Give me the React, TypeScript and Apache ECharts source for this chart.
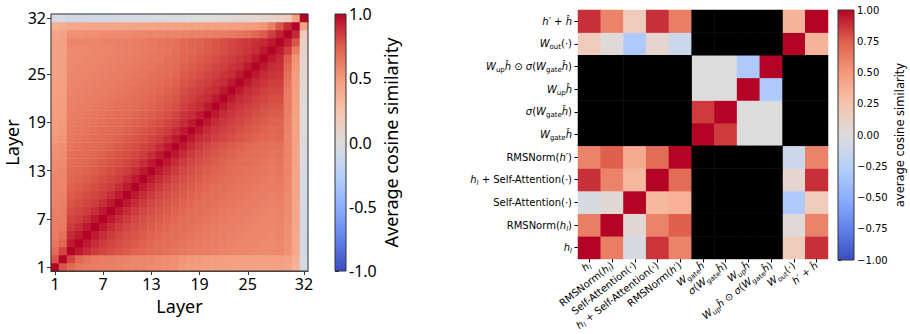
import React, { useEffect, useRef } from 'react';
import * as echarts from 'echarts';

// ---------- Left panel: layer-by-layer cosine similarity ----------
const layerLabels = ['1','2','3','4','5','6','7','8','9','10','11','12','13','14','15','16','17','18','19','20','21','22','23','24','25','26','27','28','29','30','31','32'];
const layerTickLabels = ['1','7','13','19','25','32'];

// lower triangle, row i (layer i) holds similarity with layers 1..i
const layerSimLower: number[][] = [
  [1],
  [.78,1],
  [.70,.82,1],
  [.65,.72,.94,1],
  [.63,.67,.89,.94,1],
  [.62,.64,.85,.89,.94,1],
  [.62,.63,.82,.85,.89,.94,1],
  [.61,.62,.80,.82,.85,.89,.94,1],
  [.60,.61,.78,.80,.82,.85,.89,.94,1],
  [.59,.60,.76,.78,.80,.82,.85,.89,.94,1],
  [.58,.59,.74,.76,.78,.80,.82,.85,.89,.94,1],
  [.58,.59,.72,.74,.76,.78,.80,.82,.85,.89,.94,1],
  [.57,.58,.70,.72,.74,.76,.78,.80,.82,.85,.89,.94,1],
  [.56,.57,.69,.70,.72,.74,.76,.78,.80,.82,.85,.89,.94,1],
  [.55,.56,.68,.69,.70,.72,.74,.76,.78,.80,.82,.85,.89,.94,1],
  [.54,.55,.66,.68,.69,.70,.72,.74,.76,.78,.80,.82,.85,.89,.94,1],
  [.50,.52,.65,.66,.68,.69,.70,.72,.74,.76,.78,.80,.82,.85,.89,.94,1],
  [.49,.51,.64,.65,.66,.68,.69,.70,.72,.74,.76,.78,.80,.82,.85,.89,.94,1],
  [.48,.50,.63,.64,.65,.66,.68,.69,.70,.72,.74,.76,.78,.80,.82,.85,.89,.94,1],
  [.48,.49,.62,.63,.64,.65,.66,.68,.69,.70,.72,.74,.76,.78,.80,.82,.87,.89,.94,1],
  [.47,.48,.61,.62,.63,.64,.65,.66,.68,.69,.70,.72,.74,.76,.78,.80,.84,.87,.89,.94,1],
  [.47,.48,.60,.61,.62,.63,.64,.65,.66,.68,.69,.70,.72,.74,.76,.78,.82,.84,.87,.89,.94,1],
  [.46,.47,.59,.60,.61,.62,.63,.64,.65,.66,.68,.69,.70,.72,.74,.76,.80,.82,.84,.87,.89,.94,1],
  [.46,.47,.58,.59,.60,.61,.62,.63,.64,.65,.66,.68,.69,.70,.72,.74,.78,.80,.82,.84,.87,.89,.94,1],
  [.45,.46,.58,.58,.59,.60,.61,.62,.63,.64,.65,.66,.68,.69,.70,.72,.76,.78,.80,.82,.84,.87,.89,.94,1],
  [.45,.46,.57,.58,.58,.59,.60,.61,.62,.63,.64,.65,.66,.68,.69,.70,.74,.76,.78,.80,.82,.84,.87,.89,.94,1],
  [.45,.46,.57,.57,.58,.58,.59,.60,.61,.62,.63,.64,.65,.66,.68,.69,.72,.74,.76,.78,.80,.82,.84,.87,.89,.94,1],
  [.45,.46,.56,.57,.57,.58,.58,.59,.60,.61,.62,.63,.64,.65,.66,.68,.71,.72,.74,.76,.78,.80,.82,.84,.87,.89,.94,1],
  [.46,.47,.58,.58,.59,.59,.60,.60,.61,.62,.63,.64,.65,.66,.67,.68,.72,.73,.74,.76,.78,.80,.82,.84,.86,.88,.90,.94,1],
  [.44,.45,.54,.54,.55,.55,.56,.56,.57,.57,.58,.58,.59,.59,.60,.60,.60,.61,.61,.62,.63,.63,.64,.66,.68,.72,.76,.84,.92,1],
  [.36,.38,.42,.42,.42,.43,.43,.43,.43,.44,.44,.44,.44,.45,.45,.45,.46,.46,.46,.47,.47,.47,.48,.48,.49,.50,.53,.62,.78,.90,1],
  [-.06,-.05,-.08,-.08,-.08,-.07,-.07,-.07,-.06,-.06,-.05,-.05,-.04,-.04,-.03,-.03,-.02,-.01,.00,.00,.01,.02,.03,.04,.05,.06,.08,.10,.13,.18,.45,1],
];

// ---------- Right panel: component-wise cosine similarity ----------
const compCategories = [
  'h_l', 'RMSNorm(h_l)', 'Self-Attention(·)', 'h_l + Self-Attention(·)', "RMSNorm(h')",
  'W_gate ĥ', 'σ(W_gate ĥ)', 'W_up ĥ', 'W_up ĥ ⊙ σ(W_gate ĥ)', 'W_out(·)', "h' + ĥ",
];
const compLabelsRich = [
  '{i|h}{si|l}',
  '{n|RMSNorm(}{i|h}{si|l}{n|)}',
  '{n|Self-Attention(·)}',
  '{i|h}{si|l}{n| + Self-Attention(·)}',
  '{n|RMSNorm(}{i|h′}{n|)}',
  '{i|W}{s|gate}{i|ĥ}',
  '{i|σ}{n|(}{i|W}{s|gate}{i|ĥ}{n|)}',
  '{i|W}{s|up}{i|ĥ}',
  '{i|W}{s|up}{i|ĥ}{n| ⊙ }{i|σ}{n|(}{i|W}{s|gate}{i|ĥ}{n|)}',
  '{i|W}{s|out}{n|(·)}',
  '{i|h′}{n| + }{i|ĥ}',
];
// row r = y category (0 = bottom), column c = x category; null = not comparable (black)
const N = null;
const compSim: (number | null)[][] = [
  [1.00, 0.62, -0.04, 0.87, 0.60, N, N, N, N, 0.18, 0.88],
  [0.62, 1.00, 0.05, 0.60, 0.75, N, N, N, N, 0.02, 0.60],
  [-0.04, 0.04, 1.00, 0.33, 0.36, N, N, N, N, -0.30, 0.18],
  [0.88, 0.60, 0.33, 1.00, 0.70, N, N, N, N, 0.07, 0.88],
  [0.60, 0.75, 0.40, 0.70, 1.00, N, N, N, N, -0.12, 0.60],
  [N, N, N, N, N, 1.00, 0.85, 0.00, 0.00, N, N],
  [N, N, N, N, N, 0.85, 1.00, 0.00, 0.00, N, N],
  [N, N, N, N, N, 0.00, 0.00, 1.00, -0.30, N, N],
  [N, N, N, N, N, 0.00, 0.00, -0.30, 1.00, N, N],
  [0.18, 0.02, -0.30, 0.07, -0.12, N, N, N, N, 1.00, 0.35],
  [0.88, 0.60, 0.18, 0.88, 0.62, N, N, N, N, 0.35, 1.00],
];

const coolwarm = ['#3b4cc0', '#6282ea', '#8db0fe', '#b8d0f9', '#dddcdc', '#f5c4ad', '#f49a7b', '#de604d', '#b40426'];

export default function App() {
  const ref = useRef<HTMLDivElement>(null);
  useEffect(() => {
    if (!ref.current) return;
    const chart = echarts.init(ref.current, undefined, { renderer: 'svg' });

    const leftData: number[][] = [];
    for (let i = 0; i < layerLabels.length; i++) {
      for (let j = 0; j < layerLabels.length; j++) {
        const v = j <= i ? layerSimLower[i][j] : layerSimLower[j][i];
        leftData.push([j, i, v]);
      }
    }
    const rightData: number[][] = [];
    const blackData: number[][] = [];
    compSim.forEach((row, r) => row.forEach((v, c) => {
      if (v === null) blackData.push([c, r, 0]);
      else rightData.push([c, r, v]);
    }));

    const tickIdx = layerLabels.map((l, i) => (layerTickLabels.includes(l) ? i : -1)).filter((i) => i >= 0);
    const showTick = (i: number) => tickIdx.includes(i);

    const gradStops = coolwarm.map((c, k) => ({ offset: 1 - k / (coolwarm.length - 1), color: c })).sort((a, b) => a.offset - b.offset);
    const grad = () => new echarts.graphic.LinearGradient(0, 0, 0, 1, gradStops);

    const leftFont = 'Noto Sans';
    const rightFont = 'DejaVu Sans';
    const rich = {
      n: { fontFamily: rightFont, fontSize: 10, color: '#000', lineHeight: 14 },
      i: { fontFamily: rightFont, fontSize: 10, fontStyle: 'italic', color: '#000', lineHeight: 14 },
      s: { fontFamily: rightFont, fontSize: 7, color: '#000', lineHeight: 8, verticalAlign: 'bottom' },
      si: { fontFamily: rightFont, fontSize: 7, fontStyle: 'italic', color: '#000', lineHeight: 8, verticalAlign: 'bottom' },
    };
    const compFmt = (v: string) => compLabelsRich[compCategories.indexOf(v)];

    chart.setOption({
      animation: false,
      grid: [
        { left: 51, top: 14, width: 257, height: 257, show: true, borderColor: '#333', borderWidth: 1, z: 10 },
        { left: 335, top: 14, width: 11, height: 257, show: true, borderColor: '#333', borderWidth: 1, z: 10 },
        { left: 578, top: 10, width: 250, height: 250 },
        { left: 838, top: 10, width: 16, height: 250, show: true, borderColor: '#333', borderWidth: 1, z: 10 },
      ],
      xAxis: [
        {
          type: 'category', gridIndex: 0, data: layerLabels,
          axisLine: { show: true, lineStyle: { color: '#333' } },
          axisTick: { show: true, alignWithLabel: true, interval: (i: number) => showTick(i), length: 4, lineStyle: { color: '#333' } },
          axisLabel: { interval: (i: number) => showTick(i), fontFamily: leftFont, fontSize: 16, color: '#000', margin: 5 },
          name: 'Layer', nameLocation: 'middle', nameGap: 26,
          nameTextStyle: { fontFamily: leftFont, fontSize: 18, color: '#000' },
        },
        { type: 'value', gridIndex: 1, min: 0, max: 1, show: false },
        {
          type: 'category', gridIndex: 2, data: compCategories,
          axisLine: { show: false },
          axisTick: { show: true, alignWithLabel: true, interval: 0, length: 3.5, lineStyle: { color: '#000' } },
          axisLabel: { interval: 0, rotate: 38, margin: 5, formatter: compFmt, rich },
        },
        { type: 'value', gridIndex: 3, min: 0, max: 1, show: false },
      ],
      yAxis: [
        {
          type: 'category', gridIndex: 0, data: layerLabels,
          axisLine: { show: true, lineStyle: { color: '#333' } },
          axisTick: { show: true, alignWithLabel: true, interval: (i: number) => showTick(i), length: 4, lineStyle: { color: '#333' } },
          axisLabel: { interval: (i: number) => showTick(i), fontFamily: leftFont, fontSize: 16, color: '#000', margin: 5 },
          name: 'Layer', nameLocation: 'middle', nameGap: 30,
          nameTextStyle: { fontFamily: leftFont, fontSize: 18, color: '#000' },
        },
        {
          type: 'value', gridIndex: 1, min: -1, max: 1, interval: 0.5, position: 'right',
          axisLine: { show: false }, splitLine: { show: false },
          axisTick: { show: true, length: 4, lineStyle: { color: '#333' } },
          axisLabel: { formatter: (v: number) => v.toFixed(1), fontFamily: leftFont, fontSize: 16, color: '#000', margin: 3 },
          name: 'Average cosine similarity', nameLocation: 'middle', nameGap: 36,
          nameTextStyle: { fontFamily: leftFont, fontSize: 18, color: '#000' },
        },
        {
          type: 'category', gridIndex: 2, data: compCategories,
          axisLine: { show: false },
          axisTick: { show: true, alignWithLabel: true, interval: 0, length: 3.5, lineStyle: { color: '#000' } },
          axisLabel: { interval: 0, margin: 6, formatter: compFmt, rich },
        },
        {
          type: 'value', gridIndex: 3, min: -1, max: 1, interval: 0.25, position: 'right',
          axisLine: { show: false }, splitLine: { show: false },
          axisTick: { show: true, length: 3.5, lineStyle: { color: '#333' } },
          axisLabel: { formatter: (v: number) => v.toFixed(2).replace('-', '\u2212'), fontFamily: rightFont, fontSize: 10, color: '#000', margin: 3 },
          name: 'average cosine similarity', nameLocation: 'middle', nameGap: 40,
          nameTextStyle: { fontFamily: rightFont, fontSize: 11.5, color: '#000' },
        },
      ],
      visualMap: [
        {
          type: 'continuous', show: false, seriesIndex: [0, 2], min: -1, max: 1, dimension: 2,
          inRange: { color: coolwarm },
        },
        {
          type: 'continuous', show: false, seriesIndex: 3, min: 0, max: 1, dimension: 2,
          inRange: { color: ['#000000', '#000000'] },
        },
      ],
      series: [
        { type: 'heatmap', xAxisIndex: 0, yAxisIndex: 0, data: leftData, itemStyle: { borderWidth: 0 }, emphasis: { disabled: true } },
        {
          type: 'line', xAxisIndex: 1, yAxisIndex: 1, data: [], silent: true,
          markArea: { silent: true, label: { show: false }, itemStyle: { color: grad(), opacity: 1 }, data: [[{ xAxis: 0, yAxis: -1 }, { xAxis: 1, yAxis: 1 }]] },
        },
        { type: 'heatmap', xAxisIndex: 2, yAxisIndex: 2, data: rightData, itemStyle: { borderWidth: 0 }, emphasis: { disabled: true } },
        { type: 'heatmap', xAxisIndex: 2, yAxisIndex: 2, data: blackData, itemStyle: { borderWidth: 0 }, emphasis: { disabled: true } },
        {
          type: 'line', xAxisIndex: 3, yAxisIndex: 3, data: [], silent: true,
          markArea: { silent: true, label: { show: false }, itemStyle: { color: grad(), opacity: 1 }, data: [[{ xAxis: 0, yAxis: -1 }, { xAxis: 1, yAxis: 1 }]] },
        },
      ],
    });
    return () => chart.dispose();
  }, []);
  return <div ref={ref} style={{ position: 'absolute', left: 0, top: 0, width: 910, height: 334, background: '#fff' }} />;
}
